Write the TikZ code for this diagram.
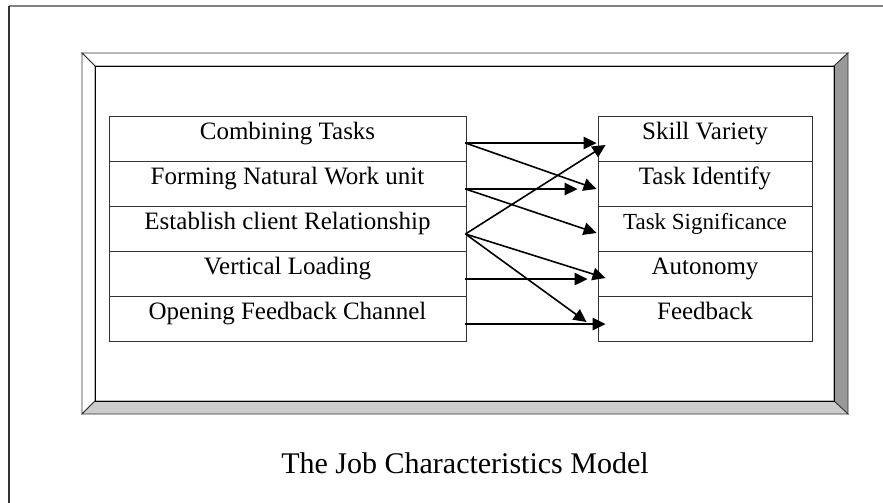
\documentclass[tikz,border=0pt]{standalone}
\usepackage{fontspec}
\setmainfont{Liberation Serif}
\usetikzlibrary{arrows.meta,calc}
\definecolor{edge}{HTML}{333333}
\definecolor{rbevel}{HTML}{999999}
\definecolor{bbevel}{HTML}{CCCCCC}
\tikzset{
  cell/.style={draw=edge, line width=0.9pt, rectangle, inner sep=0pt, text height=12pt, text depth=10pt,
    minimum height=45pt, font=\fontsize{25}{30}\selectfont},
  lcell/.style={cell, minimum width=357pt},
  rcell/.style={cell, minimum width=214pt},
  arr/.style={line width=1.6pt, -{Triangle[length=13pt,width=12.5pt]}},
  bevel/.style={draw=edge, line width=0.8pt, line join=miter},
}
\begin{document}
\begin{tikzpicture}[x=1pt,y=-1pt]
\useasboundingbox (0,0) rectangle (883,503);
% page border
\draw[line width=2pt, gray] (9,6) -- (883,6);
\draw[line width=2pt, edge] (9,6) -- (9,503);
% bevelled frame
\filldraw[bevel, fill=white] (82,53) -- (848,53) -- (834,66) -- (95,66) -- cycle;
\filldraw[bevel, fill=white] (82,53) -- (95,66) -- (95,401) -- (82,414) -- cycle;
\filldraw[bevel, fill=rbevel] (848,53) -- (848,414) -- (834,401) -- (834,66) -- cycle;
\filldraw[bevel, fill=bbevel] (82,414) -- (848,414) -- (834,401) -- (95,401) -- cycle;
\draw[line width=0.9pt, black] (95,66) rectangle (834,401);
% left column
\node[lcell] (l1) at (287.5,138.5) {Combining Tasks};
\node[lcell] (l2) at (287.5,183.5) {Forming Natural Work unit};
\node[lcell] (l3) at (287.5,228.5) {Establish client Relationship};
\node[lcell] (l4) at (287.5,273.5) {Vertical Loading};
\node[lcell] (l5) at (287.5,318.5) {Opening Feedback Channel};
% right column
\node[rcell] (r1) at (705,138.5) {Skill Variety};
\node[rcell] (r2) at (705,183.5) {Task Identify};
\node[rcell, font=\fontsize{23}{28}\selectfont] (r3) at (705,228.5) {Task Significance};
\node[rcell] (r4) at (705,273.5) {Autonomy};
\node[rcell] (r5) at (705,318.5) {Feedback};
% arrow start points
\coordinate (s1) at ($(l1.east)+(-1,4.5)$);
\coordinate (s2) at ($(l2.east)+(-1,5.5)$);
\coordinate (s3) at ($(l3.east)+(-1,5.5)$);
\coordinate (s4) at ($(l4.east)+(-1,5.5)$);
\coordinate (s5) at ($(l5.east)+(-1,5.5)$);
% arrow end points
\coordinate (t1) at ($(r1.west)+(-1,4.5)$);
\coordinate (t2) at ($(r2.west)+(-1,5.5)$);
\coordinate (t3) at ($(r2.west)+(-20,5.5)$);
\coordinate (t4) at ($(r3.west)+(-1,4.5)$);
\coordinate (t5) at ($(r1.west)+(8,6.5)$);
\coordinate (t6) at ($(r4.west)+(8,4.5)$);
\coordinate (t7) at ($(r5.west)+(-11,3.5)$);
\coordinate (t8) at ($(r4.west)+(-10,5.5)$);
\coordinate (t9) at ($(r5.west)+(8,5.5)$);
% arrows
\draw[arr] (s1) -- (t1);
\draw[arr] (s1) -- (t2);
\draw[arr] (s2) -- (t3);
\draw[arr] (s2) -- (t4);
\draw[arr] (s3) -- (t5);
\draw[arr] (s3) -- (t6);
\draw[arr] (s3) -- (t7);
\draw[arr] (s4) -- (t8);
\draw[arr] (s5) -- (t9);
% caption
\node[font=\fontsize{30}{36}\selectfont, anchor=base] (cap) at (465,473) {The Job Characteristics Model};
\end{tikzpicture}
\end{document}
